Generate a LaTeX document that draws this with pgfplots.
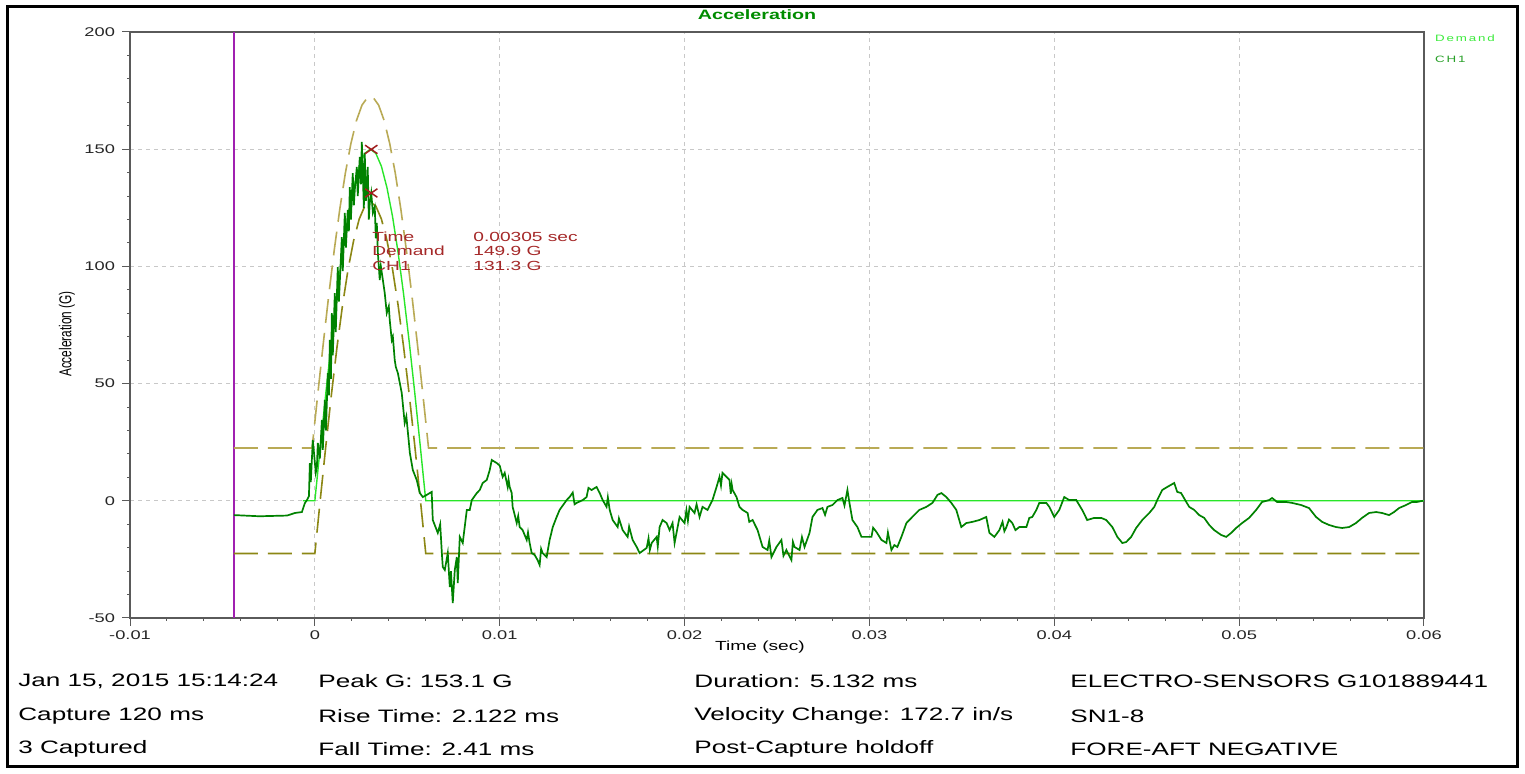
\documentclass[border=0pt]{standalone}
\usepackage{fontspec}
\setmainfont{Liberation Sans}[FakeStretch=1.45]
\newfontfamily\rotfont{Liberation Sans}[FakeStretch=0.69]
\newfontfamily\legfont{Liberation Sans}[FakeStretch=1.45,LetterSpace=20]
\usepackage{pgfplots}
\pgfplotsset{compat=1.18}

\definecolor{gridgray}{RGB}{200,200,200}
\definecolor{axisgray}{RGB}{90,90,90}
\definecolor{trigline}{RGB}{160,32,176}
\definecolor{uppertol}{RGB}{185,170,85}
\definecolor{lowertol}{RGB}{140,135,20}
\definecolor{demandgreen}{RGB}{40,230,40}
\definecolor{chgreen}{RGB}{0,130,0}
\definecolor{markred}{RGB}{160,30,30}
\definecolor{annotred}{RGB}{165,40,40}
\definecolor{titlegreen}{RGB}{0,140,0}
\definecolor{legdemand}{RGB}{60,235,60}
\definecolor{legch}{RGB}{40,160,40}

\begin{document}
\begin{tikzpicture}
\begin{scope}[x=0.5pt,y=0.5pt]
\path[fill=white] (0,0) rectangle (1525,774);
\draw[line width=1.5pt] (7,7) rectangle (1517,767);
\end{scope}

\begin{axis}[
    at={(65pt,78pt)}, anchor=south west,
    width=647pt, height=293pt, scale only axis,
    xmin=-0.01, xmax=0.06, ymin=-50, ymax=200,
    xtick={-0.01,0,0.01,0.02,0.03,0.04,0.05,0.06},
    ytick={-50,0,50,100,150,200},
    minor x tick num=4, minor y tick num=4,
    tick pos=left, tick align=outside,
    major tick length=4pt, minor tick length=1.5pt,
    grid=major,
    major grid style={gridgray, dash pattern=on 2pt off 2pt, line width=0.5pt},
    axis line style={axisgray, line width=0.6pt},
    tick style={axisgray, line width=0.5pt},
    scaled x ticks=false,
    /pgf/number format/assume math mode=true,
    ticklabel style={font=\fontsize{6.3}{7}\selectfont, text=black!85},
    xticklabel style={yshift=1pt, /pgf/number format/.cd, fixed, precision=2},
  ]
  % trigger line
  \addplot[trigline, line width=1pt] coordinates {(-0.00438,-50) (-0.00438,200)};
  % upper tolerance
  \addplot[uppertol, line width=0.8pt, dash pattern=on 12pt off 5pt] coordinates {
    (-0.00438,22.5) (-0.00015,22.5) (0.00015,44.9) (0.00045,66.7) (0.00075,87.6)
    (0.00105,107.0) (0.00135,124.5) (0.00165,139.8) (0.00195,152.4) (0.00225,162.2)
    (0.00255,168.8) (0.00285,172.1) (0.00300,172.5) (0.00315,172.1) (0.00345,168.8)
    (0.00375,162.2) (0.00405,152.4) (0.00435,139.8) (0.00465,124.5) (0.00495,107.0)
    (0.00525,87.6) (0.00555,66.7) (0.00585,44.9) (0.00615,22.5) (0.06,22.5)
  };
  % lower tolerance
  \addplot[lowertol, line width=0.8pt, dash pattern=on 12pt off 5pt] coordinates {
    (-0.00438,-22.5) (0,-22.5) (0.0003,1.0) (0.0006,23.9) (0.0009,45.6) (0.0012,65.7)
    (0.0015,83.6) (0.0018,98.9) (0.0021,111.1) (0.0024,120.2) (0.0027,125.7)
    (0.0030,127.5) (0.0033,125.7) (0.0036,120.2) (0.0039,111.1) (0.0042,98.9)
    (0.0045,83.6) (0.0048,65.7) (0.0051,45.6) (0.0054,23.9) (0.0057,1.0)
    (0.0060,-22.5) (0.06,-22.5)
  };
  % demand
  \addplot[demandgreen, line width=0.7pt] coordinates {
    (-0.00065,0) (0,0) (0.0003,23.5) (0.0006,46.4) (0.0009,68.1) (0.0012,88.2)
    (0.0015,106.1) (0.0018,121.4) (0.0021,133.6) (0.0024,142.7) (0.0027,148.2)
    (0.0030,150.0) (0.0033,148.2) (0.0036,142.7) (0.0039,133.6) (0.0042,121.4)
    (0.0045,106.1) (0.0048,88.2) (0.0051,68.1) (0.0054,46.4) (0.0057,23.5)
    (0.0060,0) (0.06,0)
  };
  % CH1
  \addplot[chgreen, line width=0.85pt] coordinates {
    (-0.00438,-6.1) (-0.0030,-6.6) (-0.0020,-6.4) (-0.00150,-6.3) (-0.00108,-5.2)
    (-0.00070,-4.8) (-0.00054,-1.0) (-0.00043,0.3) (-0.00032,2.0) (-0.00027,16.1)
    (-0.00022,8.0) (-0.00011,25.9) (0.00005,12.0) (0.00011,14.4) (0.00016,24.7)
    (0.00027,18.0) (0.00038,34.5) (0.00043,21.7) (0.00054,43.0) (0.00060,30.0)
    (0.00070,54.5) (0.00076,45.0) (0.00081,68.6) (0.00087,52.0) (0.00092,80.1)
    (0.00097,62.0) (0.00108,88.6) (0.00113,72.0) (0.00124,99.7) (0.00130,85.0)
    (0.00146,112.5) (0.00151,98.0) (0.00162,122.8) (0.00168,108.0) (0.00178,124.1)
    (0.00184,115.0) (0.00189,133.8) (0.00195,120.0) (0.00205,139.8) (0.00211,126.0)
    (0.00216,132.6) (0.00227,142.4) (0.00232,130.0) (0.00243,146.7) (0.00249,135.0)
    (0.00254,153.1) (0.00260,138.1) (0.00265,125.0) (0.00270,148.4) (0.00276,128.0)
    (0.00281,132.6) (0.00286,142.4) (0.00292,120.0) (0.00297,127.0) (0.00305,131.3)
    (0.00314,122.8) (0.00324,125.3) (0.00330,112.0) (0.00335,118.5) (0.00341,105.7)
    (0.00351,94.2) (0.00357,100.0) (0.00368,94.2) (0.00378,88.6) (0.00389,80.1)
    (0.00400,83.0) (0.00405,77.1) (0.00416,68.6) (0.00422,70.0) (0.00432,60.1)
    (0.00438,57.1) (0.00449,54.5) (0.00470,46.0) (0.00486,33.2) (0.00495,36.0)
    (0.00514,20.4) (0.00530,13.1) (0.00551,8.9) (0.00568,3.3) (0.00584,1.6)
    (0.00605,2.5) (0.00632,3.8) (0.00638,-8.2) (0.00665,-13.7) (0.00678,-10.0)
    (0.00687,-22.3) (0.00692,-28.2) (0.00703,-29.5) (0.00719,-22.3) (0.00730,-36.8)
    (0.00736,-30.0) (0.00746,-43.6) (0.00757,-29.5) (0.00768,-24.0) (0.00773,-35.1)
    (0.00784,-15.4) (0.00800,-18.0) (0.00822,-3.9) (0.00838,-3.9) (0.00849,0.3)
    (0.00876,3.3) (0.00892,4.6) (0.00908,7.6) (0.00930,8.9) (0.00946,13.1)
    (0.00957,17.4) (0.00984,16.1) (0.01000,15.0) (0.01016,10.2) (0.01027,11.9)
    (0.01043,5.9) (0.01048,9.0) (0.01054,5.9) (0.01065,3.3) (0.01070,-2.6)
    (0.01092,-9.5) (0.01100,-6.5) (0.01108,-11.2) (0.01124,-12.5) (0.01146,-16.7)
    (0.01153,-13.5) (0.01162,-18.0) (0.01173,-22.3) (0.01189,-23.1) (0.01205,-25.3)
    (0.01216,-27.4) (0.01224,-20.5) (0.01232,-22.3) (0.01254,-24.0) (0.01270,-16.7)
    (0.01287,-11.2) (0.01308,-6.9) (0.01324,-3.9) (0.01362,0.3) (0.01378,1.6)
    (0.01395,3.5) (0.01405,-1.5) (0.01416,-0.9) (0.01449,0.3) (0.01470,1.6)
    (0.01480,5.5) (0.01497,4.6) (0.01524,5.9) (0.01541,3.3) (0.01557,0.3)
    (0.01578,-2.6) (0.01585,1.5) (0.01595,-3.9) (0.01611,-8.2) (0.01638,-11.2)
    (0.01645,-7.5) (0.01665,-12.5) (0.01692,-15.4) (0.01700,-11.0) (0.01719,-16.7)
    (0.01741,-19.7) (0.01757,-22.3) (0.01795,-20.1) (0.01805,-16.0) (0.01812,-21.0)
    (0.01822,-18.0) (0.01849,-15.4) (0.01855,-19.5) (0.01865,-11.2) (0.01881,-8.2)
    (0.01903,-9.5) (0.01919,-12.5) (0.01935,-9.5) (0.01946,-18.0) (0.01973,-6.9)
    (0.02000,-9.5) (0.02010,-4.0) (0.02018,-8.5) (0.02027,-2.6) (0.02054,-5.2)
    (0.02065,-1.5) (0.02081,-6.9) (0.02097,-2.6) (0.02124,-3.9) (0.02151,0.3)
    (0.02173,5.9) (0.02189,10.2) (0.02197,6.5) (0.02205,11.9) (0.02227,10.2)
    (0.02243,8.9) (0.02250,3.0) (0.02255,7.0) (0.02260,4.6) (0.02281,1.6)
    (0.02297,-2.6) (0.02314,-3.9) (0.02341,-5.2) (0.02350,-9.0) (0.02368,-8.2)
    (0.02395,-12.5) (0.02422,-19.7) (0.02449,-21.0) (0.02458,-17.0) (0.02470,-24.0)
    (0.02497,-19.7) (0.02524,-16.7) (0.02535,-23.5) (0.02551,-21.0) (0.02578,-25.3)
    (0.02586,-17.5) (0.02595,-19.7) (0.02622,-21.0) (0.02635,-15.5) (0.02649,-19.7)
    (0.02676,-13.7) (0.02692,-6.9) (0.02719,-3.9) (0.02746,-3.1) (0.02760,-6.0)
    (0.02773,-2.6) (0.02800,-1.8) (0.02827,0.3) (0.02854,1.2) (0.02865,-2.0)
    (0.02881,4.6) (0.02892,-0.9) (0.02908,-8.2) (0.02935,-11.2) (0.02957,-15.4)
    (0.02984,-15.4) (0.03011,-15.4) (0.03020,-11.5) (0.03038,-13.3) (0.03065,-16.7)
    (0.03092,-18.0) (0.03100,-13.5) (0.03119,-21.0) (0.03135,-18.9) (0.03151,-19.7)
    (0.03173,-15.4) (0.03200,-9.5) (0.03232,-6.9) (0.03270,-3.9) (0.03308,-2.6)
    (0.03341,-0.9) (0.03368,2.5) (0.03389,3.3) (0.03416,1.6) (0.03443,-0.9)
    (0.03470,-3.9) (0.03497,-11.2) (0.03524,-9.5) (0.03557,-9.0) (0.03595,-8.2)
    (0.03632,-6.9) (0.03649,-13.7) (0.03676,-15.4) (0.03703,-12.5) (0.03720,-9.0)
    (0.03730,-13.0) (0.03741,-11.2) (0.03755,-8.0) (0.03773,-9.5) (0.03790,-12.5)
    (0.03811,-11.2) (0.03849,-11.2) (0.03865,-7.3) (0.03881,-6.9) (0.03903,-3.9)
    (0.03919,-0.9) (0.03957,-0.9) (0.03973,-2.6) (0.04000,-6.9) (0.04027,-3.9)
    (0.04054,1.6) (0.04081,0.3) (0.04119,0.3) (0.04151,-3.9) (0.04178,-8.2)
    (0.04216,-7.3) (0.04254,-7.3) (0.04281,-8.2) (0.04314,-11.2) (0.04341,-15.4)
    (0.04368,-18.0) (0.04389,-17.6) (0.04416,-15.4) (0.04443,-11.6) (0.04476,-8.2)
    (0.04514,-5.2) (0.04541,-2.6) (0.04557,0.3) (0.04584,4.6) (0.04611,5.9)
    (0.04649,7.6) (0.04665,3.8) (0.04686,3.3) (0.04714,-0.5) (0.04730,-2.6)
    (0.04757,-3.9) (0.04784,-6.1) (0.04811,-7.3) (0.04838,-10.3) (0.04865,-12.5)
    (0.04903,-14.6) (0.04930,-15.4) (0.04957,-13.7) (0.04984,-11.6) (0.05016,-9.5)
    (0.05054,-7.3) (0.05092,-3.9) (0.05124,-0.5) (0.05162,0.3) (0.05178,1.2)
    (0.05205,-0.5) (0.05254,-0.5) (0.05286,-0.9) (0.05335,-1.8) (0.05378,-3.1)
    (0.05416,-6.9) (0.05449,-9.0) (0.05486,-10.3) (0.05524,-11.2) (0.05557,-11.6)
    (0.05595,-11.2) (0.05632,-9.5) (0.05665,-7.3) (0.05703,-5.2) (0.05741,-4.8)
    (0.05773,-5.2) (0.05811,-6.1) (0.05838,-4.8) (0.05865,-3.1) (0.05903,-1.8)
    (0.05935,-0.5) (0.05962,-0.5) (0.05995,0.0)
  };
  % cursor marks
  \addplot[only marks, mark=x, mark size=3pt, markred,
    mark options={xscale=1.45, line width=0.75pt}] coordinates {(0.00305,149.9) (0.00305,131.3)};
\end{axis}

\begin{scope}[x=0.5pt,y=0.5pt]
% title and side legend
\node[font=\bfseries\fontsize{6.8}{8}\selectfont, text=titlegreen] at (757,759) {Acceleration};
\node[anchor=west, font=\legfont\fontsize{4.6}{5}\selectfont, text=legdemand] at (1428,736) {Demand};
\node[anchor=west, font=\legfont\fontsize{4.6}{5}\selectfont, text=legch] at (1428,715) {CH1};

% cursor readout
\begin{scope}[every node/.style={anchor=west, inner sep=0pt, font=\fontsize{6.6}{8}\selectfont, text=annotred}]
  \node at (372,537) {Time};
  \node at (372,523) {Demand};
  \node at (372,508) {CH1};
  \node at (473,537) {0.00305 sec};
  \node at (473,523) {149.9 G};
  \node at (473,508) {131.3 G};
\end{scope}

% axis labels
\node[rotate=90, font=\rotfont\fontsize{8.6}{9}\selectfont] at (67,440) {Acceleration (G)};
\node[font=\fontsize{6.6}{8}\selectfont] at (760,127) {Time (sec)};

% test summary
\begin{scope}[every node/.style={anchor=west, inner sep=0pt, font=\fontsize{9}{11}\selectfont}]
  \node at (18,93) {Jan 15, 2015 15:14:24};
  \node at (18,58) {Capture 120 ms};
  \node at (18,25) {3 Captured};
  \node at (318,93) {Peak G: 153.1 G};
  \node at (318,58) {Rise Time: 2.122 ms};
  \node at (318,25) {Fall Time: 2.41 ms};
  \node at (694,93) {Duration: 5.132 ms};
  \node at (694,58) {Velocity Change: 172.7 in/s};
  \node at (694,25) {Post-Capture holdoff};
  \node at (1070,93) {ELECTRO-SENSORS G101889441};
  \node at (1070,58) {SN1-8};
  \node at (1070,25) {FORE-AFT NEGATIVE};
\end{scope}
\end{scope}
\end{tikzpicture}
\end{document}
